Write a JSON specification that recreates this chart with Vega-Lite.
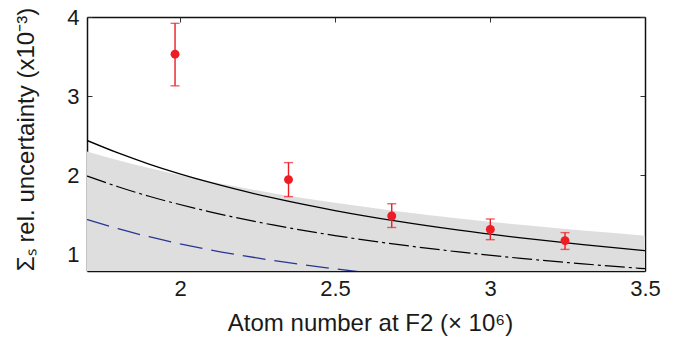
{
  "$schema": "https://vega.github.io/schema/vega-lite/v6.json",
  "width": 558,
  "height": 254,
  "autosize": {"type": "none"},
  "padding": {"left": 87, "top": 17, "right": 31, "bottom": 66},
  "background": "white",
  "config": {
    "view": {"stroke": null},
    "font": "Liberation Sans",
    "axis": {
      "domainColor": "#111",
      "domainWidth": 1.5,
      "tickColor": "#333",
      "tickWidth": 1,
      "tickSize": -5,
      "grid": false,
      "labelFlush": false,
      "labelFont": "Liberation Sans",
      "labelFontSize": 22,
      "labelColor": "#1a1a1a",
      "titleFont": "Liberation Sans",
      "titleFontSize": 24,
      "titleFontWeight": "normal",
      "titleColor": "#1a1a1a",
      "zindex": 1
    }
  },
  "datasets": {
    "curves": [
      {"x": 1.7, "solid": 2.44, "dashdot": 1.99, "hi": 2.30, "lo": 0.79},
      {"x": 1.8, "solid": 2.282, "dashdot": 1.855, "hi": 2.19, "lo": 0.79},
      {"x": 1.9, "solid": 2.142, "dashdot": 1.735, "hi": 2.091, "lo": 0.79},
      {"x": 2.1, "solid": 1.906, "dashdot": 1.535, "hi": 1.918, "lo": 0.79},
      {"x": 2.3, "solid": 1.713, "dashdot": 1.372, "hi": 1.774, "lo": 0.79},
      {"x": 2.5, "solid": 1.554, "dashdot": 1.238, "hi": 1.651, "lo": 0.79},
      {"x": 2.7, "solid": 1.42, "dashdot": 1.126, "hi": 1.546, "lo": 0.79},
      {"x": 2.9, "solid": 1.306, "dashdot": 1.031, "hi": 1.454, "lo": 0.79},
      {"x": 3.1, "solid": 1.208, "dashdot": 0.95, "hi": 1.373, "lo": 0.79},
      {"x": 3.3, "solid": 1.123, "dashdot": 0.88, "hi": 1.301, "lo": 0.79},
      {"x": 3.5, "solid": 1.048, "dashdot": 0.819, "hi": 1.237, "lo": 0.79}
    ],
    "blue": [
      {"x": 1.7, "y": 1.44},
      {"x": 1.8, "y": 1.324},
      {"x": 1.9, "y": 1.223},
      {"x": 2.0, "y": 1.134},
      {"x": 2.1, "y": 1.055},
      {"x": 2.2, "y": 0.986},
      {"x": 2.3, "y": 0.923},
      {"x": 2.4, "y": 0.867},
      {"x": 2.5, "y": 0.817},
      {"x": 2.6, "y": 0.771},
      {"x": 2.7, "y": 0.73}
    ],
    "meas": [
      {"n": 1.984, "u": 3.53, "lo": 3.13, "hi": 3.92},
      {"n": 2.35, "u": 1.945, "lo": 1.73, "hi": 2.16},
      {"n": 2.683, "u": 1.485, "lo": 1.34, "hi": 1.64},
      {"n": 3.001, "u": 1.316, "lo": 1.186, "hi": 1.447},
      {"n": 3.242, "u": 1.173, "lo": 1.063, "hi": 1.275}
    ]
  },
  "resolve": {"axis": {"x": "independent", "y": "independent"}},
  "layer": [
    {
      "data": {"name": "curves"},
      "mark": {"type": "area", "color": "#dedede", "interpolate": "monotone", "clip": true},
      "encoding": {
        "x": {
          "field": "x", "type": "quantitative",
          "scale": {"domain": [1.7, 3.5], "nice": false, "zero": false},
          "axis": {
            "orient": "bottom",
            "values": [2, 2.5, 3, 3.5],
            "format": "~g",
            "labelPadding": 12,
            "title": "Atom number at F2 (× 10⁶)",
            "titleX": 283,
            "titleY": 59,
            "titleAlign": "center",
            "titleBaseline": "alphabetic"
          }
        },
        "y": {
          "field": "hi", "type": "quantitative",
          "scale": {"domain": [0.79, 4], "nice": false, "zero": false},
          "axis": {
            "orient": "left",
            "values": [1, 2, 3, 4],
            "format": "~g",
            "labelPadding": 13,
            "title": "Σₛ rel. uncertainty (x10⁻³)",
            "titleX": -54,
            "titleY": 122,
            "titleAngle": -90,
            "titleAlign": "center",
            "titleBaseline": "alphabetic"
          }
        },
        "y2": {"field": "lo"}
      }
    },
    {
      "data": {"name": "curves"},
      "mark": {"type": "line", "color": "black", "strokeWidth": 1.3, "interpolate": "monotone", "clip": true},
      "encoding": {
        "x": {"field": "x", "type": "quantitative", "axis": null},
        "y": {"field": "solid", "type": "quantitative", "axis": null}
      }
    },
    {
      "data": {"name": "curves"},
      "mark": {"type": "line", "color": "black", "strokeWidth": 1.2, "strokeDash": [20, 4, 3, 4], "interpolate": "monotone", "clip": true},
      "encoding": {
        "x": {"field": "x", "type": "quantitative", "axis": null},
        "y": {"field": "dashdot", "type": "quantitative", "axis": null}
      }
    },
    {
      "data": {"name": "blue"},
      "mark": {"type": "line", "color": "#2b3592", "strokeWidth": 1.3, "strokeDash": [23, 9], "interpolate": "monotone", "clip": true},
      "encoding": {
        "x": {"field": "x", "type": "quantitative", "axis": null},
        "y": {"field": "y", "type": "quantitative", "axis": null}
      }
    },
    {
      "data": {"name": "meas"},
      "mark": {"type": "rule", "color": "#ee1c25", "strokeWidth": 1.4},
      "encoding": {
        "x": {"field": "n", "type": "quantitative", "axis": null},
        "y": {"field": "lo", "type": "quantitative", "axis": null},
        "y2": {"field": "hi"}
      }
    },
    {
      "data": {"name": "meas"},
      "mark": {"type": "tick", "color": "#ee1c25", "orient": "horizontal", "size": 9, "thickness": 1.4},
      "encoding": {
        "x": {"field": "n", "type": "quantitative", "axis": null},
        "y": {"field": "hi", "type": "quantitative", "axis": null}
      }
    },
    {
      "data": {"name": "meas"},
      "mark": {"type": "tick", "color": "#ee1c25", "orient": "horizontal", "size": 9, "thickness": 1.4},
      "encoding": {
        "x": {"field": "n", "type": "quantitative", "axis": null},
        "y": {"field": "lo", "type": "quantitative", "axis": null}
      }
    },
    {
      "data": {"name": "meas"},
      "mark": {"type": "circle", "color": "#ee1c25", "opacity": 1, "size": 80},
      "encoding": {
        "x": {
          "field": "n", "type": "quantitative",
          "axis": {"orient": "top", "values": [2, 2.5, 3, 3.5], "labels": false, "title": null}
        },
        "y": {
          "field": "u", "type": "quantitative",
          "axis": {"orient": "right", "values": [1, 2, 3, 4], "labels": false, "title": null}
        }
      }
    }
  ]
}
